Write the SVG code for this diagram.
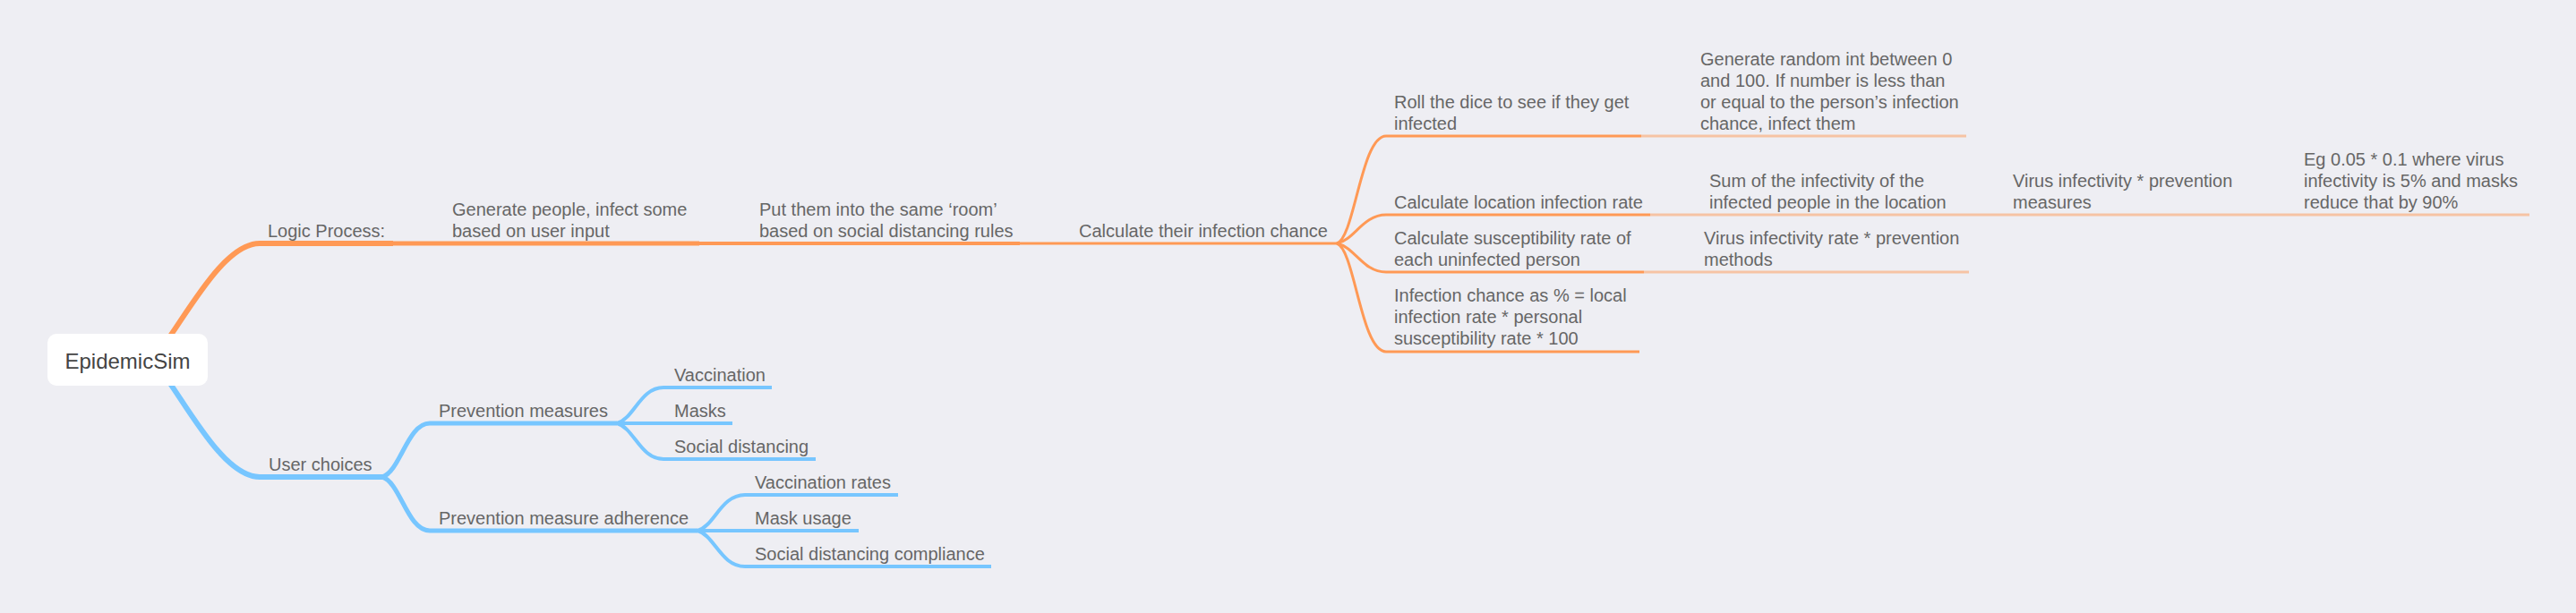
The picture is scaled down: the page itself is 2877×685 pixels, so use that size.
<svg xmlns="http://www.w3.org/2000/svg" width="2877" height="685" viewBox="0 0 2877 685">
<style>
text{font-family:"Liberation Sans",Arial,Helvetica,sans-serif;font-size:20px;fill:#666666}
.root{font-size:24px;fill:#444444;text-anchor:middle}
.o{stroke:#FF9955;fill:none}
.p{stroke:#F6C3A4;fill:none;stroke-width:3}
.b{stroke:#77C6FF;fill:none}
.w6{stroke-width:6}.w5{stroke-width:5}.w4{stroke-width:4}.w3{stroke-width:3}
</style>
<rect width="2877" height="685" fill="#EEEEF3"/>
<g id="connectors">
<path class="o w6" d="M170 402 C200 370 245 272 290 272"/>
<path class="b w6" d="M170 402 C200 434 245 533 290 533"/>
<path class="o w3" d="M1493 272 C1513 266 1520 152 1548 152"/>
<path class="o w3" d="M1493 272 C1513 268 1522 240 1548 240"/>
<path class="o w3" d="M1493 272 C1513 276 1522 304 1548 304"/>
<path class="o w3" d="M1493 272 C1513 278 1520 393 1548 393"/>
<path class="b w5" d="M427 533 C447 527 455 473 480 473"/>
<path class="b w5" d="M427 533 C447 539 455 593 480 593"/>
<path class="b w4" d="M689 473 C708 468 715 433 741 433"/>
<path class="b w4" d="M689 473 L741 473"/>
<path class="b w4" d="M689 473 C708 478 715 513 741 513"/>
<path class="b w4" d="M779 593 C798 588 805 553 832 553"/>
<path class="b w4" d="M779 593 L832 593"/>
<path class="b w4" d="M779 593 C798 598 805 633 832 633"/>
</g>
<g id="root">
<rect x="53" y="373" width="179" height="58" rx="10" fill="#FFFFFF"/>
<text class="root" x="142.5" y="412">EpidemicSim</text>
</g>
<g id="logic-process">
<line class="o w6" x1="290" y1="272" x2="439" y2="272"/>
<text x="299" y="265">Logic Process:</text>
</g>
<g id="generate-people">
<line class="o w5" x1="439" y1="272" x2="781" y2="272"/>
<text x="505" y="241">Generate people, infect some</text>
<text x="505" y="265">based on user input</text>
</g>
<g id="put-them">
<line class="o w4" x1="781" y1="272" x2="1139" y2="272"/>
<text x="848" y="241">Put them into the same ‘room’</text>
<text x="848" y="265">based on social distancing rules</text>
</g>
<g id="calc-chance">
<line class="o w3" x1="1139" y1="272" x2="1493" y2="272"/>
<text x="1205" y="265">Calculate their infection chance</text>
</g>
<g id="roll-dice">
<line class="o w3" x1="1548" y1="152" x2="1833" y2="152"/>
<text x="1557" y="121">Roll the dice to see if they get</text>
<text x="1557" y="145">infected</text>
</g>
<g id="generate-random">
<line class="p" x1="1833" y1="152" x2="2196" y2="152"/>
<text x="1899" y="73">Generate random int between 0</text>
<text x="1899" y="97">and 100. If number is less than</text>
<text x="1899" y="121">or equal to the person’s infection</text>
<text x="1899" y="145">chance, infect them</text>
</g>
<g id="location-rate">
<line class="o w3" x1="1548" y1="240" x2="1843" y2="240"/>
<text x="1557" y="233">Calculate location infection rate</text>
</g>
<g id="sum-infectivity">
<line class="p" x1="1843" y1="240" x2="2182" y2="240"/>
<text x="1909" y="209">Sum of the infectivity of the</text>
<text x="1909" y="233">infected people in the location</text>
</g>
<g id="virus-measures">
<line class="p" x1="2182" y1="240" x2="2507" y2="240"/>
<text x="2248" y="209">Virus infectivity * prevention</text>
<text x="2248" y="233">measures</text>
</g>
<g id="eg">
<line class="p" x1="2507" y1="240" x2="2825" y2="240"/>
<text x="2573" y="185">Eg 0.05 * 0.1 where virus</text>
<text x="2573" y="209">infectivity is 5% and masks</text>
<text x="2573" y="233">reduce that by 90%</text>
</g>
<g id="susceptibility">
<line class="o w3" x1="1548" y1="304" x2="1836" y2="304"/>
<text x="1557" y="273">Calculate susceptibility rate of</text>
<text x="1557" y="297">each uninfected person</text>
</g>
<g id="virus-methods">
<line class="p" x1="1836" y1="304" x2="2199" y2="304"/>
<text x="1903" y="273">Virus infectivity rate * prevention</text>
<text x="1903" y="297">methods</text>
</g>
<g id="infection-chance">
<line class="o w3" x1="1548" y1="393" x2="1831" y2="393"/>
<text x="1557" y="337">Infection chance as % = local</text>
<text x="1557" y="361">infection rate * personal</text>
<text x="1557" y="385">susceptibility rate * 100</text>
</g>
<g id="user-choices">
<line class="b w6" x1="290" y1="533" x2="427" y2="533"/>
<text x="300" y="526">User choices</text>
</g>
<g id="prevention-measures">
<line class="b w5" x1="480" y1="473" x2="689" y2="473"/>
<text x="490" y="466">Prevention measures</text>
</g>
<g id="vaccination">
<line class="b w4" x1="741" y1="433" x2="862" y2="433"/>
<text x="753" y="426">Vaccination</text>
</g>
<g id="masks">
<line class="b w4" x1="741" y1="473" x2="818" y2="473"/>
<text x="753" y="466">Masks</text>
</g>
<g id="social-distancing">
<line class="b w4" x1="741" y1="513" x2="911" y2="513"/>
<text x="753" y="506">Social distancing</text>
</g>
<g id="adherence">
<line class="b w5" x1="480" y1="593" x2="779" y2="593"/>
<text x="490" y="586">Prevention measure adherence</text>
</g>
<g id="vaccination-rates">
<line class="b w4" x1="832" y1="553" x2="1003" y2="553"/>
<text x="843" y="546">Vaccination rates</text>
</g>
<g id="mask-usage">
<line class="b w4" x1="832" y1="593" x2="959" y2="593"/>
<text x="843" y="586">Mask usage</text>
</g>
<g id="sd-compliance">
<line class="b w4" x1="832" y1="633" x2="1107" y2="633"/>
<text x="843" y="626">Social distancing compliance</text>
</g>
</svg>
